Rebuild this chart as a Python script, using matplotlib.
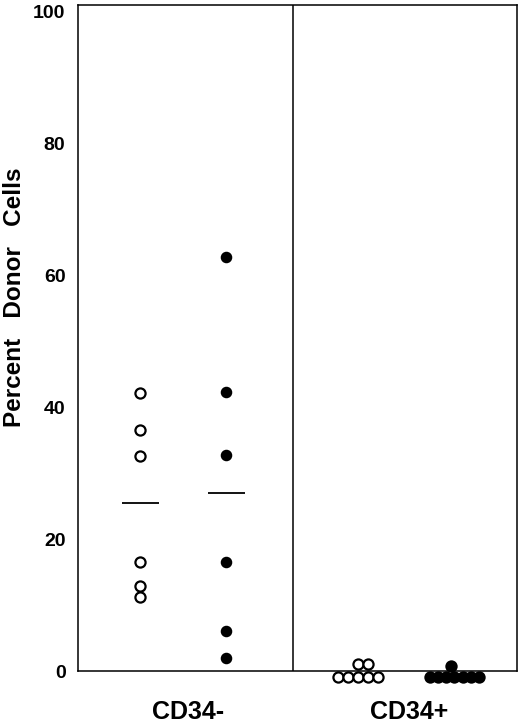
import matplotlib
matplotlib.use("Agg")
import matplotlib.pyplot as plt
import numpy as np

plt.rcParams['font.family'] = ['Liberation Sans', 'DejaVu Sans']
plt.rcParams['font.weight'] = 'bold'

# ---- data (percent donor cells) ----
groups = ["CD34-", "CD34+"]
cd34neg_open = [42.2, 36.6, 32.6, 16.5, 12.9, 11.2]
cd34neg_filled = [62.8, 42.3, 32.8, 16.5, 6.1, 2.0]
cd34neg_open_mean = 25.5
cd34neg_filled_mean = 27.0
# CD34+ values cluster at ~0, drawn as stacked rows
cd34pos_open_rows = [[-0.9] * 5, [1.1] * 2]
cd34pos_filled_rows = [[-0.9] * 7, [0.8] * 1]
yticks = [0, 20, 40, 60, 80, 100]

# ---- layout ----
fig = plt.figure(figsize=(5.2, 7.27), dpi=100)
ax = fig.add_axes([0.15, 0.077, 0.844, 0.916])
ax.set_xlim(0, 4.08)
ax.set_ylim(0, 101)

pos_neg_open, pos_neg_filled = 0.58, 1.38
pos_pos_open, pos_pos_filled = 2.6, 3.5
ms = 7.3

ax.plot([pos_neg_open] * len(cd34neg_open), cd34neg_open, 'o', ms=ms,
        mfc='white', mec='black', mew=1.6, clip_on=False, zorder=3)
ax.plot([pos_neg_filled] * len(cd34neg_filled), cd34neg_filled, 'o', ms=ms,
        mfc='black', mec='black', clip_on=False, zorder=3)
ax.hlines(cd34neg_open_mean, pos_neg_open - 0.17, pos_neg_open + 0.17,
          color='black', lw=1.3)
ax.hlines(cd34neg_filled_mean, pos_neg_filled - 0.17, pos_neg_filled + 0.17,
          color='black', lw=1.3)

def stack(rows, center, spacing, shifts, filled):
    for row, sh in zip(rows, shifts):
        n = len(row)
        xs = center + sh * spacing + (np.arange(n) - (n - 1) / 2) * spacing
        ax.plot(xs, row, 'o', ms=ms, mfc='black' if filled else 'white',
                mec='black', mew=1.6, clip_on=False, zorder=3)

stack(cd34pos_open_rows, pos_pos_open, 0.093, [0, 0.5], False)
stack(cd34pos_filled_rows, pos_pos_filled, 0.075, [0, -0.4], True)

# divider
ax.axvline(2.0, color='black', lw=1.1)

for s in ax.spines.values():
    s.set_linewidth(1.1)

ax.set_yticks(yticks)
ax.set_yticklabels([str(v) for v in yticks], fontsize=14, fontweight='bold')
ax.set_xticks([1.02, 3.08])
ax.set_xticklabels(groups, fontsize=18, fontweight='bold')
ax.tick_params(axis='y', length=0, pad=9)
ax.tick_params(axis='x', length=0, pad=21)

ax.set_ylabel("Percent   Donor   Cells", fontsize=17.5, fontweight='bold')
ax.yaxis.set_label_coords(-0.118, 0.562)

fig.savefig("out.png", dpi=100)
